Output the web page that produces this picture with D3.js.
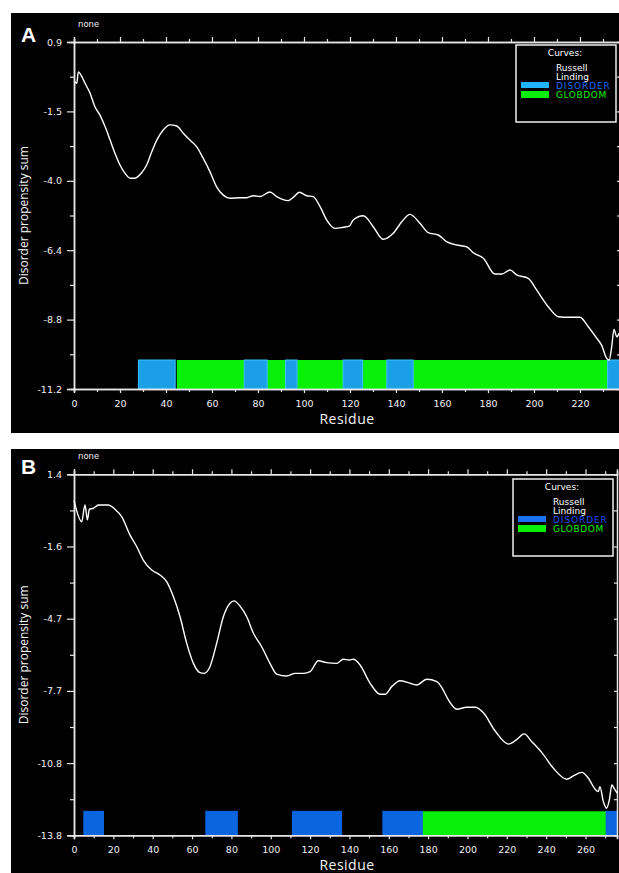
<!DOCTYPE html>
<html>
<head>
<meta charset="utf-8">
<script src="https://cdn.jsdelivr.net/npm/d3@7"></script>
<style>
  body { margin: 0; background: #fff; }
  text { font-family: "DejaVu Sans", sans-serif; }
</style>
</head>
<body>
<script>
// ---- panel A data ----
const residuesA = [0.4, 1.2, 1.9, 3.4, 4.8, 7.0, 9.1, 11.3, 13.5, 15.7, 17.8, 20, 22.2, 24.4, 26.5, 29.4, 31.6, 33.8, 36,
  38.8, 41.7, 44.7, 47.5, 50.4, 53.3, 56.2, 59.1, 62, 64.9, 67.8, 72.2, 75.1, 78, 80.9, 85.2, 88.1, 93.2, 95.3, 98,
  101.2, 104, 107, 109.9, 113.5, 117.1, 119.7, 121.4, 125.8, 130.1, 134.5, 138.8, 142.5, 146.1, 150.4, 154, 158.4,
  162, 166.4, 170.7, 173.6, 178, 183, 186, 189.6, 192.5, 197.5, 201.2, 206.2, 210.6, 215.7, 220, 223.6, 227.3,
  229.4, 231.6, 232.7, 233.8, 234.8, 236, 237];
const scoresA = [-0.48, -0.54, -0.14, -0.31, -0.54, -0.89, -1.36, -1.65, -2.05, -2.52, -2.98, -3.39, -3.68, -3.85, -3.85,
  -3.66, -3.39, -2.93, -2.52, -2.17, -1.99, -2.03, -2.28, -2.52, -2.75, -3.16, -3.62, -4.15, -4.44, -4.55, -4.53,
  -4.53, -4.46, -4.49, -4.33, -4.49, -4.63, -4.52, -4.34, -4.46, -4.49, -4.84, -5.31, -5.6, -5.56, -5.52, -5.31,
  -5.16, -5.54, -5.98, -5.77, -5.37, -5.11, -5.42, -5.75, -5.83, -6.06, -6.18, -6.24, -6.45, -6.64, -7.19, -7.19,
  -7.05, -7.22, -7.34, -7.75, -8.33, -8.68, -8.7, -8.7, -9.03, -9.43, -9.67, -10.13, -10.19, -9.72, -9.12, -9.38, -9.26];
const yTickLabelsA = ["-11.2", "-8.8", "-6.4", "-4.0", "-1.5", "0.9"];
const disorderA = [[28, 44], [74, 84], [92, 97], [117, 125.5], [136, 147.5], [232, 238]];
const globdomA = [[44.7, 74], [84, 92], [97, 117], [125.5, 136], [147.5, 232]];

// ---- panel B data ----
const residuesB = [0, 1, 3.9, 5.6, 6.8, 7.8, 9.8, 12.4, 17.4, 20.8, 24.3, 28.5, 31.9, 35.2, 39.5, 43.7, 47.1, 50.5, 53.9,
  57.3, 60.7, 64, 66.1, 69.1, 72.5, 75.9, 79.3, 81.3, 84.4, 87.8, 91.2, 95.4, 99.6, 103, 108.1, 112.4, 116.6, 120,
  124.2, 128.3, 133.5, 136.9, 139.9, 142, 145.4, 150.5, 155.6, 158.1, 161.5, 165.7, 169.9, 174.2, 179.3, 184.4,
  186.9, 190.3, 194.6, 199.6, 203.9, 208.1, 214, 220.8, 225.1, 228.8, 232.7, 237.8, 243.7, 250.5, 253.8, 258.1,
  261.5, 264.9, 266.5, 267.3, 269.1, 270.7, 272.1, 273.4, 274.5, 276.2];
const scoresB = [0.29, -0.03, -0.6, 0.11, -0.52, -0.07, -0.03, 0.11, 0.11, -0.07, -0.39, -1.16, -1.65, -2.21, -2.63, -2.84,
  -3.12, -3.75, -4.6, -5.72, -6.56, -6.95, -6.98, -6.7, -5.72, -4.6, -4.03, -3.93, -4.15, -4.6, -5.29, -5.86, -6.56,
  -7.01, -7.09, -6.98, -6.98, -6.91, -6.45, -6.53, -6.56, -6.39, -6.42, -6.39, -6.63, -7.4, -7.86, -7.86, -7.54,
  -7.29, -7.37, -7.47, -7.23, -7.33, -7.57, -8.1, -8.49, -8.41, -8.41, -8.64, -9.4, -9.96, -9.76, -9.53, -9.86,
  -10.32, -10.98, -11.44, -11.3, -11.15, -11.4, -11.86, -11.96, -11.75, -12.39, -12.66, -12.31, -11.68, -11.82, -12.03];
const yTickLabelsB = ["-13.8", "-10.8", "-7.7", "-4.7", "-1.6", "1.4"];
const disorderB = [[5, 15], [67, 83], [111, 136], [157, 177], [270.5, 276]];
const globdomB = [[177, 270.5]];

const legendLabels = ["Russell", "Linding", "DISORDER", "GLOBDOM"];

const svg = d3.select("body").append("svg")
  .attr("width", 619)
  .attr("height", 873);

svg.append("rect").attr("width", 619).attr("height", 873).attr("fill", "#fff");

const axisColor = "#e6e6e6";
const green = "#08f008";

function drawPanel(p) {
  const g = svg.append("g");

  g.append("rect")
    .attr("x", 11).attr("y", p.top)
    .attr("width", 608).attr("height", p.height)
    .attr("fill", "#000");

  const x = d3.scaleLinear().domain([0, p.xMax]).range([74, p.right]);
  const y = d3.scaleLinear().domain([p.yMin, p.yMax]).range([p.bottom, p.plotTop]);

  /* annotation tracks */
  g.selectAll(".glob")
    .data(p.globdom)
    .enter()
    .append("rect")
    .attr("x", d => x(d[0]))
    .attr("width", d => x(d[1]) - x(d[0]))
    .attr("y", p.bottom - p.barH)
    .attr("height", p.barH)
    .attr("fill", green);

  g.selectAll(".dis")
    .data(p.disorder)
    .enter()
    .append("rect")
    .attr("x", d => x(d[0]))
    .attr("width", d => x(d[1]) - x(d[0]))
    .attr("y", p.bottom - p.barH)
    .attr("height", p.barH)
    .attr("fill", p.disColor)
    .attr("stroke", p.disStroke)
    .attr("stroke-width", 1);

  /* axes */
  const majorX = d3.range(0, p.xMax, 20);
  const minorX = d3.range(10, p.xMax, 20);
  const yStep = (p.yMax - p.yMin) / 5;
  const majorY = d3.range(6).map(i => p.yMin + i * yStep);
  const minorY = d3.range(5).map(i => p.yMin + (i + 0.5) * yStep);

  const bottom = g.append("g")
    .attr("transform", `translate(0, ${p.bottom})`)
    .call(d3.axisBottom(x).tickValues(majorX).tickSize(4).tickPadding(7).tickFormat(d3.format("d")));
  g.append("g")
    .attr("transform", `translate(0, ${p.bottom})`)
    .call(d3.axisBottom(x).tickValues(minorX).tickSize(3).tickFormat(""));

  g.append("g")
    .attr("transform", `translate(0, ${p.plotTop})`)
    .call(d3.axisTop(x).tickValues(majorX).tickSize(5).tickFormat(""));
  g.append("g")
    .attr("transform", `translate(0, ${p.plotTop})`)
    .call(d3.axisTop(x).tickValues(minorX).tickSize(3).tickFormat(""));

  g.append("g")
    .attr("transform", "translate(74, 0)")
    .call(d3.axisLeft(y).tickValues(majorY).tickSize(7).tickPadding(5)
      .tickFormat((d, i) => p.yLabels[i]));
  g.append("g")
    .attr("transform", "translate(74, 0)")
    .call(d3.axisLeft(y).tickValues(minorY).tickSize(4).tickFormat(""));

  g.append("g")
    .attr("transform", `translate(${p.right}, 0)`)
    .call(d3.axisRight(y).tickValues(majorY.concat(minorY)).tickSize(-3).tickFormat(""));

  g.selectAll(".domain").attr("stroke", axisColor).attr("stroke-width", 1.5);
  g.selectAll(".tick line").attr("stroke", axisColor).attr("stroke-width", 1.2);
  g.selectAll(".tick text")
    .attr("fill", "#f0f0f0")
    .style("font-size", "9.5px");

  /* the curve */
  const pts = p.residues.map((r, i) => ({ r: r, v: p.scores[i] }));
  const line = d3.line()
    .x(d => x(d.r))
    .y(d => y(d.v))
    .curve(d3.curveMonotoneX);

  g.append("path")
    .datum(pts)
    .attr("d", line)
    .attr("fill", "none")
    .attr("stroke", "#fff")
    .attr("stroke-width", 1.4);

  /* labels */
  g.append("text")
    .attr("x", 21).attr("y", p.plotTop)
    .attr("fill", "#fff")
    .style("font-size", "21px")
    .style("font-weight", "bold")
    .style("font-family", "Liberation Sans, Arial, sans-serif")
    .text(p.letter);

  g.append("text")
    .attr("x", 78).attr("y", p.plotTop - 15)
    .attr("fill", "#eee")
    .style("font-size", "8.5px")
    .text("none");

  g.append("text")
    .attr("transform", `translate(28, ${(p.plotTop + p.bottom) / 2}) rotate(-90)`)
    .attr("text-anchor", "middle")
    .attr("fill", "#f4f4f4")
    .style("font-size", "12px")
    .style("font-family", "Open Sans, sans-serif")
    .text("Disorder propensity sum");

  g.append("text")
    .attr("x", 347).attr("y", p.bottom + 35)
    .attr("text-anchor", "middle")
    .attr("fill", "#f4f4f4")
    .style("font-size", "14px")
    .style("font-family", "Open Sans, sans-serif")
    .style("letter-spacing", "0.5px")
    .text("Residue");

  /* legend */
  const lg = g.append("g").attr("transform", `translate(${p.legend[0]}, ${p.legend[1]})`);
  lg.append("rect")
    .attr("width", 100).attr("height", 77)
    .attr("fill", "#000")
    .attr("stroke", "#eee")
    .attr("stroke-width", 1.5);
  lg.append("text")
    .attr("x", 49).attr("y", 11)
    .attr("text-anchor", "middle")
    .attr("fill", "#fff")
    .style("font-size", "9px")
    .text("Curves:");
  lg.append("text").attr("x", 40).attr("y", 25.5).attr("fill", "#fff")
    .style("font-size", "9px").text(legendLabels[0]);
  lg.append("text").attr("x", 40).attr("y", 34.5).attr("fill", "#fff")
    .style("font-size", "9px").text(legendLabels[1]);
  lg.append("rect").attr("x", 5).attr("y", 37).attr("width", 28).attr("height", 6)
    .attr("fill", p.swatchColor);
  lg.append("text").attr("x", 40).attr("y", 43.5).attr("fill", p.disText)
    .style("font-size", "9px").style("letter-spacing", "0.9px").text(legendLabels[2]);
  lg.append("rect").attr("x", 5).attr("y", 46).attr("width", 28).attr("height", 7)
    .attr("fill", green);
  lg.append("text").attr("x", 40).attr("y", 52.5).attr("fill", green)
    .style("font-size", "9px").style("letter-spacing", "0.6px").text(legendLabels[3]);
}

drawPanel({
  letter: "A", top: 13, height: 420,
  plotTop: 42, bottom: 389, right: 620,
  xMax: 237.4, yMin: -11.2, yMax: 0.9, yLabels: yTickLabelsA,
  residues: residuesA, scores: scoresA,
  disorder: disorderA, globdom: globdomA, barH: 29,
  disColor: "#1b9fe6", disStroke: "#3cc4ff", swatchColor: "#22b4fa", disText: "#1f6af2",
  legend: [516, 45]
});

drawPanel({
  letter: "B", top: 449, height: 424,
  plotTop: 474.3, bottom: 835.3, right: 617,
  xMax: 276, yMin: -13.8, yMax: 1.4, yLabels: yTickLabelsB,
  residues: residuesB, scores: scoresB,
  disorder: disorderB, globdom: globdomB, barH: 24,
  disColor: "#0a66e0", disStroke: "#0a66e0", swatchColor: "#1a72f2", disText: "#1a4ff0",
  legend: [513, 479]
});
</script>
</body>
</html>
